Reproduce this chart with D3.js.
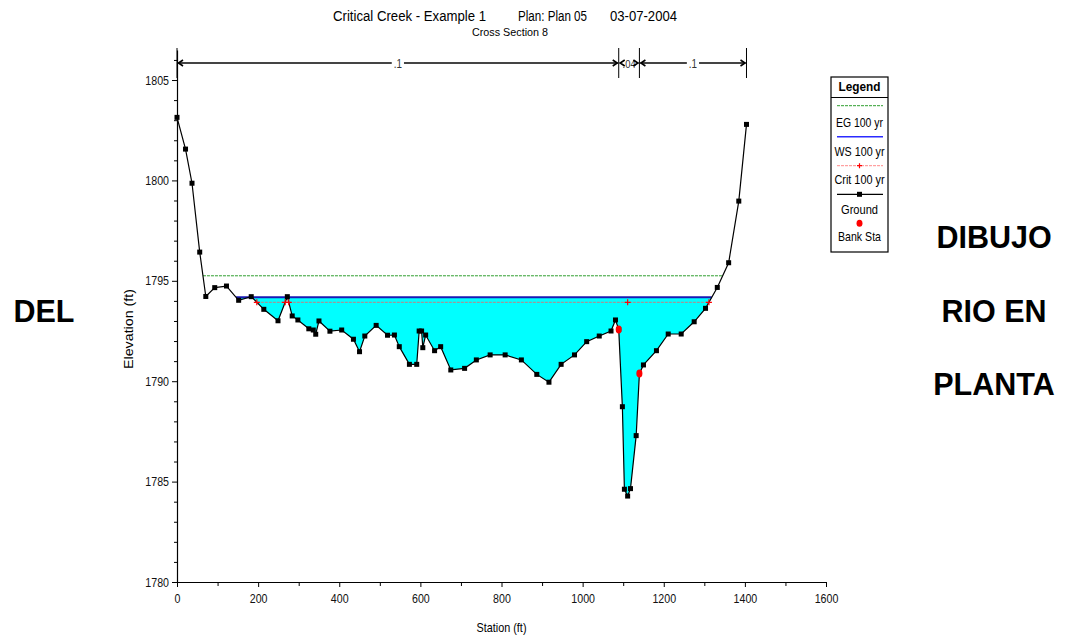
<!DOCTYPE html>
<html><head><meta charset="utf-8">
<script src="https://cdn.jsdelivr.net/npm/d3@7"></script>
<style>body{margin:0;background:#fff}svg{display:block}</style>
</head><body><svg id="c" width="1068" height="636"></svg>
<script>
// ---------------- DATA ----------------
const stations = [0,21,37,56,71,93,122,152,183,214,249,272,284,298,325,336,342,350,377,406,435,450,463,491,519,536,548,573,591,597,603,606,613,635,650,675,709,738,772,809,849,887,917,947,980,1010,1041,1070,1081,1089,1098,1103,1111,1118,1132,1140,1150,1182,1211,1243,1275,1303,1332,1360,1385,1404];
const elevations = [1803.14,1801.56,1799.86,1796.43,1794.22,1794.66,1794.74,1794.03,1794.21,1793.58,1793.01,1794.21,1793.25,1793.05,1792.61,1792.55,1792.34,1793.0,1792.49,1792.55,1792.09,1791.47,1792.25,1792.78,1792.29,1792.30,1791.72,1790.84,1790.84,1792.50,1792.50,1791.67,1792.30,1791.52,1791.72,1790.56,1790.64,1791.06,1791.31,1791.31,1791.06,1790.34,1789.95,1790.84,1791.31,1791.97,1792.25,1792.50,1793.05,1792.58,1788.73,1784.62,1784.28,1784.65,1787.29,1790.39,1790.81,1791.52,1792.35,1792.35,1792.96,1793.63,1794.67,1795.90,1798.97,1802.79];
const bankStations = [1089, 1140];
const egElev = 1795.25;
const wsElev = 1794.18;
const critElev = 1793.93;
const manningBreaks = [0, 1089, 1140, 1404];
const manningLabels = [".1", ".04", ".1"];
const xTicks = [0,200,400,600,800,1000,1200,1400,1600];
const xMinorTicks = [100,300,500,700,900,1100,1300,1500];
const yTicks = [1780,1785,1790,1795,1800,1805];
const yMinorTicks = [1781,1782,1783,1784,1786,1787,1788,1789,1791,1792,1793,1794,1796,1797,1798,1799,1801,1802,1803,1804,1806];
const titleParts = ["Critical Creek - Example 1", "Plan: Plan 05", "03-07-2004"];
const subtitle = "Cross Section 8";
const xLabel = "Station (ft)";
const yLabel = "Elevation (ft)";
const legendTitle = "Legend";
const legendLabels = ["EG 100 yr", "WS 100 yr", "Crit 100 yr", "Ground", "Bank Sta"];
const sideLeft = ["DEL"];
const sideRight = ["DIBUJO", "RIO EN", "PLANTA"];

// ---------------- FONTS ----------------
const NARROW_OK = (() => {
  const c = document.createElement('canvas').getContext('2d');
  c.font = '40px "Liberation Sans Narrow"'; const w1 = c.measureText('Critical Creek').width;
  c.font = '40px "Liberation Sans"'; const w2 = c.measureText('Critical Creek').width;
  return w1 < w2 * 0.9;
})();
const NF = NARROW_OK ? '"Liberation Sans Narrow", sans-serif' : '"Liberation Sans", Arial, sans-serif';
const SX = NARROW_OK ? 1 : 0.82;

function ntext(parent, x, y, str, size, opts = {}) {
  const t = parent.append('text')
    .attr('transform', `translate(${x},${y}) scale(${SX},1)`)
    .attr('font-family', NF).attr('font-size', size)
    .attr('text-anchor', opts.anchor || 'start')
    .attr('font-weight', opts.weight || 'normal')
    .attr('fill', opts.fill || '#000')
    .text(str);
  if (opts.len) t.attr('textLength', opts.len / SX).attr('lengthAdjust', 'spacingAndGlyphs');
  return t;
}

// ---------------- SCALES ----------------
const svg = d3.select('#c');
const x = d3.scaleLinear().domain([0, 1600]).range([177, 826]);
const y = d3.scaleLinear().domain([1780, 1806.5]).range([582, 49.9]);

const pts = stations.map((s, i) => [s, elevations[i]]);

function crossings(level) {
  const out = [];
  for (let i = 1; i < pts.length; i++) {
    const [s0, g0] = pts[i - 1], [s1, g1] = pts[i];
    if ((g0 - level) * (g1 - level) < 0) out.push(s0 + (s1 - s0) * (level - g0) / (g1 - g0));
  }
  return out;
}
function wetPolys(level) {
  const polys = []; let cur = null;
  for (let i = 0; i < pts.length; i++) {
    const [s, g] = pts[i];
    if (g < level) {
      if (!cur) {
        cur = [];
        if (i > 0) { const [s0, g0] = pts[i - 1]; cur.push([s0 + (s - s0) * (level - g0) / (g - g0), level]); }
      }
      cur.push([s, g]);
    } else if (cur) {
      const [s0, g0] = pts[i - 1];
      cur.push([s0 + (s - s0) * (level - g0) / (g - g0), level]);
      polys.push(cur); cur = null;
    }
  }
  if (cur) polys.push(cur);
  return polys;
}

const line = d3.line().x(d => x(d[0])).y(d => y(d[1]));

// ---------------- WATER FILL ----------------
wetPolys(wsElev).forEach(p => {
  svg.append('path').attr('d', line(p) + 'Z').attr('fill', '#00ffff').attr('stroke', 'none');
});

// ---------------- EG ----------------
const egX = crossings(egElev);
svg.append('line').attr('x1', x(d3.min(egX))).attr('x2', x(d3.max(egX)))
  .attr('y1', y(egElev)).attr('y2', y(egElev))
  .attr('stroke', '#2f9e2f').attr('stroke-width', 1).attr('stroke-dasharray', '3,1');

// ---------------- WS ----------------
const wsX = crossings(wsElev);
svg.append('line').attr('x1', x(d3.min(wsX))).attr('x2', x(d3.max(wsX)))
  .attr('y1', y(wsElev)).attr('y2', y(wsElev))
  .attr('stroke', '#1a1ab4').attr('stroke-width', 2);

// ---------------- CRIT ----------------
const crX = crossings(critElev);
svg.append('line').attr('x1', x(d3.min(crX))).attr('x2', x(d3.max(crX)))
  .attr('y1', y(critElev)).attr('y2', y(critElev))
  .attr('stroke', '#e07070').attr('stroke-width', 1).attr('stroke-dasharray', '3,1').attr('opacity', 0.9);

// ---------------- AXES ----------------
function styleAxisText(g, size) {
  g.selectAll('text').each(function () {
    const t = d3.select(this);
    const xx = +t.attr('x') || 0, yy = +t.attr('y') || 0;
    t.attr('x', 0).attr('y', 0)
      .attr('transform', `translate(${xx},${yy}) scale(${SX},1)`)
      .attr('font-family', NF).attr('font-size', size).attr('fill', '#111');
  });
}
const gy = svg.append('g').attr('transform', `translate(${x(0)},0)`)
  .call(d3.axisLeft(y).tickValues(yTicks).tickSize(5).tickSizeOuter(0).tickPadding(3).tickFormat(d3.format('d')));
gy.select('.domain').attr('stroke', '#000').attr('stroke-width', 1.2);
gy.selectAll('.tick line').attr('stroke', '#000');
styleAxisText(gy, 13);
const gym = svg.append('g').attr('transform', `translate(${x(0)},0)`)
  .call(d3.axisLeft(y).tickValues(yMinorTicks).tickSize(3).tickFormat(''));
gym.select('.domain').remove();

const gx = svg.append('g').attr('transform', `translate(0,${y(1780)})`)
  .call(d3.axisBottom(x).tickValues(xTicks).tickSize(5).tickSizeOuter(0).tickPadding(7).tickFormat(d3.format('d')));
gx.select('.domain').attr('stroke', '#000').attr('stroke-width', 1.2);
styleAxisText(gx, 13);
const gxm = svg.append('g').attr('transform', `translate(0,${y(1780)})`)
  .call(d3.axisBottom(x).tickValues(xMinorTicks).tickSize(4).tickFormat(''));
gxm.select('.domain').remove();

ntext(svg, (x(0) + x(1600)) / 2, 632, xLabel, 12, { anchor: 'middle', len: 50 });
const gyl = svg.append('g').attr('transform', `translate(133,329) rotate(-90)`);
ntext(gyl, 0, 0, yLabel, 12, { anchor: 'middle', len: 80 });

// ---------------- GROUND ----------------
svg.append('path').attr('d', line(pts)).attr('fill', 'none').attr('stroke', '#000').attr('stroke-width', 1.2);
svg.append('g').selectAll('rect').data(pts).join('rect')
  .attr('x', d => x(d[0]) - 2.5).attr('y', d => y(d[1]) - 2.5)
  .attr('width', 5).attr('height', 5).attr('fill', '#000');

// crit markers at crossings and thalweg
function plus(g, cx, cy, r) {
  g.append('path').attr('d', `M${cx - r},${cy}H${cx + r}M${cx},${cy - r}V${cy + r}`)
    .attr('stroke', '#ff0000').attr('stroke-width', 1.2);
}
const thalweg = pts.reduce((a, b) => (b[1] < a[1] ? b : a))[0];
const gCr = svg.append('g');
crX.concat([thalweg]).forEach(s => plus(gCr, x(s), y(critElev), 3));

// bank stations
function groundAt(s) {
  for (let i = 1; i < pts.length; i++) {
    const [s0, g0] = pts[i - 1], [s1, g1] = pts[i];
    if (s >= s0 && s <= s1) return g0 + (g1 - g0) * (s - s0) / (s1 - s0);
  }
  return NaN;
}
svg.append('g').selectAll('ellipse').data(bankStations).join('ellipse')
  .attr('cx', d => x(d)).attr('cy', d => y(groundAt(d)))
  .attr('rx', 3).attr('ry', 4).attr('fill', '#ff0000');

// ---------------- MANNING'S N ----------------
const gm = svg.append('g');
const my = 63;
manningBreaks.forEach(s => {
  gm.append('line').attr('x1', x(s)).attr('x2', x(s)).attr('y1', 48).attr('y2', 78)
    .attr('stroke', '#000').attr('stroke-width', 1);
});
manningLabels.forEach((lab, i) => {
  const a = x(manningBreaks[i]), b = x(manningBreaks[i + 1]);
  gm.append('line').attr('x1', a + 1).attr('x2', b - 1).attr('y1', my).attr('y2', my)
    .attr('stroke', '#444').attr('stroke-width', 2);
  const bg = gm.append('rect');
  const t = ntext(gm, (a + b) / 2, my + 4.5, lab, b - a > 40 ? 12 : 11.5, { anchor: 'middle', fill: '#333' });
  const bb = t.node().getBBox();
  bg.attr('x', (a + b) / 2 - bb.width * SX / 2 - 2).attr('y', my - 3)
    .attr('width', bb.width * SX + 4).attr('height', 6).attr('fill', '#fff');
  gm.append('path').attr('d', `M${a + 6},${my - 3}L${a + 1.5},${my}L${a + 6},${my + 3}M${b - 6},${my - 3}L${b - 1.5},${my}L${b - 6},${my + 3}`)
    .attr('fill', 'none').attr('stroke', '#000').attr('stroke-width', 1.6);
});

// ---------------- TITLES ----------------
ntext(svg, 333, 21, titleParts[0], 15, { len: 153 });
ntext(svg, 518, 21, titleParts[1], 15, { len: 69 });
ntext(svg, 610, 21, titleParts[2], 15, { len: 67 });
ntext(svg, 510, 36, subtitle, 11, { anchor: 'middle', len: 76 });

// ---------------- LEGEND ----------------
const lg = svg.append('g');
lg.append('rect').attr('x', 831).attr('y', 77).attr('width', 57).attr('height', 175)
  .attr('fill', '#fff').attr('stroke', '#000').attr('stroke-width', 1.2);
lg.append('line').attr('x1', 831).attr('x2', 888).attr('y1', 97.5).attr('y2', 97.5).attr('stroke', '#000');
ntext(lg, 859.5, 91, legendTitle, 13, { anchor: 'middle', weight: 'bold', len: 42 });
const lx1 = 837, lx2 = 883, lc = 859.5;
const rowY = [105.7, 136.7, 165.7, 194.3, 223.3];
const txtY = [126.5, 155.5, 184, 213.5, 241];
const txtLen = [47, 50, 50, 37, 43];
lg.append('line').attr('x1', lx1).attr('x2', lx2).attr('y1', rowY[0]).attr('y2', rowY[0])
  .attr('stroke', '#2f9e2f').attr('stroke-dasharray', '3,1');
lg.append('line').attr('x1', lx1).attr('x2', lx2).attr('y1', rowY[1]).attr('y2', rowY[1])
  .attr('stroke', '#2b2bff').attr('stroke-width', 1.5);
lg.append('line').attr('x1', lx1).attr('x2', lx2).attr('y1', rowY[2]).attr('y2', rowY[2])
  .attr('stroke', '#ff8a8a').attr('stroke-dasharray', '3,1');
plus(lg, lc, rowY[2], 2.5);
lg.append('line').attr('x1', lx1).attr('x2', lx2).attr('y1', rowY[3]).attr('y2', rowY[3])
  .attr('stroke', '#000').attr('stroke-width', 1.2);
lg.append('rect').attr('x', lc - 2.5).attr('y', rowY[3] - 2.5).attr('width', 5).attr('height', 5).attr('fill', '#000');
lg.append('ellipse').attr('cx', lc).attr('cy', rowY[4]).attr('rx', 3).attr('ry', 3.5).attr('fill', '#ff0000');
legendLabels.forEach((l, i) => ntext(lg, lc, txtY[i], l, 13, { anchor: 'middle', len: txtLen[i] }));

// ---------------- SIDE TEXT ----------------
const sideFont = '"Liberation Sans", Arial, sans-serif';
sideLeft.forEach((t, i) => svg.append('text').attr('x', 44).attr('y', 322 + i * 73)
  .attr('text-anchor', 'middle').attr('font-family', sideFont).attr('font-weight', 'bold')
  .attr('font-size', 30.5).text(t));
sideRight.forEach((t, i) => svg.append('text').attr('x', 994).attr('y', 248 + i * 73.5)
  .attr('text-anchor', 'middle').attr('font-family', sideFont).attr('font-weight', 'bold')
  .attr('font-size', 30.5).text(t));
</script></body></html>
